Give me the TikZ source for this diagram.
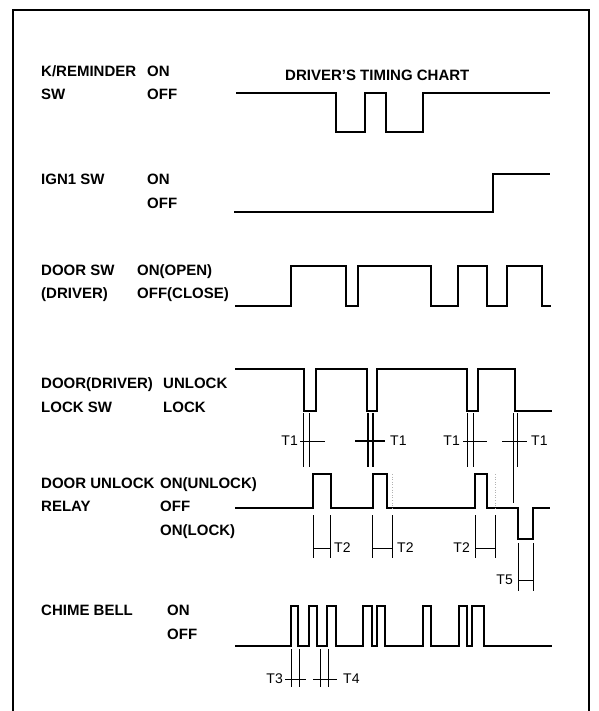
\documentclass[tikz,border=0pt]{standalone}
\usepackage{fontspec}
\setmainfont{Liberation Sans}
\begin{document}
\begin{tikzpicture}[x=1pt,y=-1pt,
  lbl/.style={anchor=base west, inner sep=0, font=\fontsize{15}{17}\selectfont\bfseries},
  tl/.style={inner sep=0, font=\fontsize{14}{16}\selectfont},
  wave/.style={line width=2.6pt, line join=miter},
  tick/.style={line width=0.9pt},
  faint/.style={line width=0.6pt, gray!60, dotted}]
\useasboundingbox (0,0) rectangle (598,711);
% frame
\draw[line width=2pt] (12.5,711) -- (12.5,10) -- (589,10) -- (589,711);

% labels
\node[lbl] (kr)  at (41,76.5) {K/REMINDER};
\node[lbl] (kron) at (147,76.5) {ON};
\node[lbl] (sw)  at (41,100) {SW};
\node[lbl] (kroff) at (147,100) {OFF};
\node[lbl] (title) at (285,81) {DRIVER'S TIMING CHART};

\node[lbl] (ign) at (41,185) {IGN1 SW};
\node[lbl] (ignon) at (147,185) {ON};
\node[lbl] (ignoff) at (147,208) {OFF};

\node[lbl] (dsw) at (41,275.5) {DOOR SW};
\node[lbl] (dswon) at (137,275.5) {ON(OPEN)};
\node[lbl] (ddrv) at (41,298.5) {(DRIVER)};
\node[lbl] (dswoff) at (137,298.5) {OFF(CLOSE)};

\node[lbl] (dl) at (41,388.5) {DOOR(DRIVER)};
\node[lbl] (dlun) at (163,388.5) {UNLOCK};
\node[lbl] (lsw) at (41,412.5) {LOCK SW};
\node[lbl] (dllk) at (163,412.5) {LOCK};

\node[lbl] (du) at (41,488.5) {DOOR UNLOCK};
\node[lbl] (duon) at (160,488.5) {ON(UNLOCK)};
\node[lbl] (rel) at (41,511.5) {RELAY};
\node[lbl] (reloff) at (160,511.5) {OFF};
\node[lbl] (rellk) at (160,535.5) {ON(LOCK)};

\node[lbl] (cb) at (41,615.5) {CHIME BELL};
\node[lbl] (cbon) at (167,615.5) {ON};
\node[lbl] (cboff) at (167,639) {OFF};

% waveforms
\draw[wave] (236,93) -- (336,93) -- (336,132) -- (365,132) -- (365,93) -- (386,93) -- (386,132) -- (423,132) -- (423,93) -- (550,93);
\draw[wave] (234,212) -- (493,212) -- (493,174) -- (550,174);
\draw[wave] (235,306) -- (291,306) -- (291,266) -- (346,266) -- (346,306) -- (358,306) -- (358,266) -- (431,266) -- (431,306) -- (458,306) -- (458,266) -- (487,266) -- (487,306) -- (507,306) -- (507,266) -- (542,266) -- (542,306) -- (551,306);
\draw[wave] (235,369) -- (304,369) -- (304,411) -- (316,411) -- (316,369) -- (367,369) -- (367,411) -- (377,411) -- (377,369) -- (467,369) -- (467,411) -- (478,411) -- (478,369) -- (515,369) -- (515,411) -- (552,411);
\draw[wave] (235,508) -- (313,508) -- (313,474) -- (331,474) -- (331,508) -- (373,508) -- (373,474) -- (387,474) -- (387,508) -- (475,508) -- (475,474) -- (487,474) -- (487,508) -- (518,508) -- (518,539) -- (533,539) -- (533,508) -- (550,508);
\draw[wave] (235,646) -- (291,646) -- (291,606) -- (298,606) -- (298,646) -- (309,646) -- (309,606) -- (317,606) -- (317,646) -- (327,646) -- (327,606) -- (336,606) -- (336,646) -- (363,646) -- (363,606) -- (372,606) -- (372,646) -- (377,646) -- (377,606) -- (385,606) -- (385,646) -- (423,646) -- (423,606) -- (431,606) -- (431,646) -- (459,646) -- (459,606) -- (467,606) -- (467,646) -- (472,646) -- (472,606) -- (484,606) -- (484,646) -- (552,646);

% T1 markers
\draw[tick] (303,413) -- (303,467) (309,413) -- (309,467) (300,441) -- (325,441);
\node[tl,anchor=east] (t1a) at (298,441) {T1};
\draw[line width=1.5pt] (368,413) -- (368,467) (373,413) -- (373,467) (355,441) -- (385,441);
\node[tl,anchor=west] (t1b) at (390,441) {T1};
\draw[tick] (467,413) -- (467,467) (473,413) -- (473,467) (463,441) -- (487,441);
\node[tl,anchor=east] (t1c) at (460,441) {T1};
\draw[tick] (513,413) -- (513,503) (517,413) -- (517,467) (502,441) -- (527,441);
\node[tl,anchor=west] (t1d) at (531,441) {T1};

% T2 markers
\draw[tick] (313,515) -- (313,558) (330,515) -- (330,558) (313,548) -- (330,548);
\node[tl,anchor=west] (t2a) at (334,548) {T2};
\draw[faint] (392,474) -- (392,508);
\draw[tick] (372,515) -- (372,558) (392,515) -- (392,558) (372,548) -- (392,548);
\node[tl,anchor=west] (t2b) at (397,548) {T2};
\draw[faint] (495,474) -- (495,508);
\draw[tick] (475,515) -- (475,558) (495,515) -- (495,558) (475,548) -- (495,548);
\node[tl,anchor=east] (t2c) at (470,548) {T2};

% T5
\draw[tick] (518,543) -- (518,591) (533,543) -- (533,591) (518,580) -- (533,580);
\node[tl,anchor=east] (t5) at (513,580) {T5};

% T3 / T4
\draw[tick] (291,649) -- (291,687) (299,649) -- (299,687) (285,679) -- (306,679);
\node[tl,anchor=east] (t3) at (283,679) {T3};
\draw[tick] (320,649) -- (320,687) (328,649) -- (328,687) (313,679) -- (337,679);
\node[tl,anchor=west] (t4) at (343,679) {T4};
\end{tikzpicture}
\end{document}
